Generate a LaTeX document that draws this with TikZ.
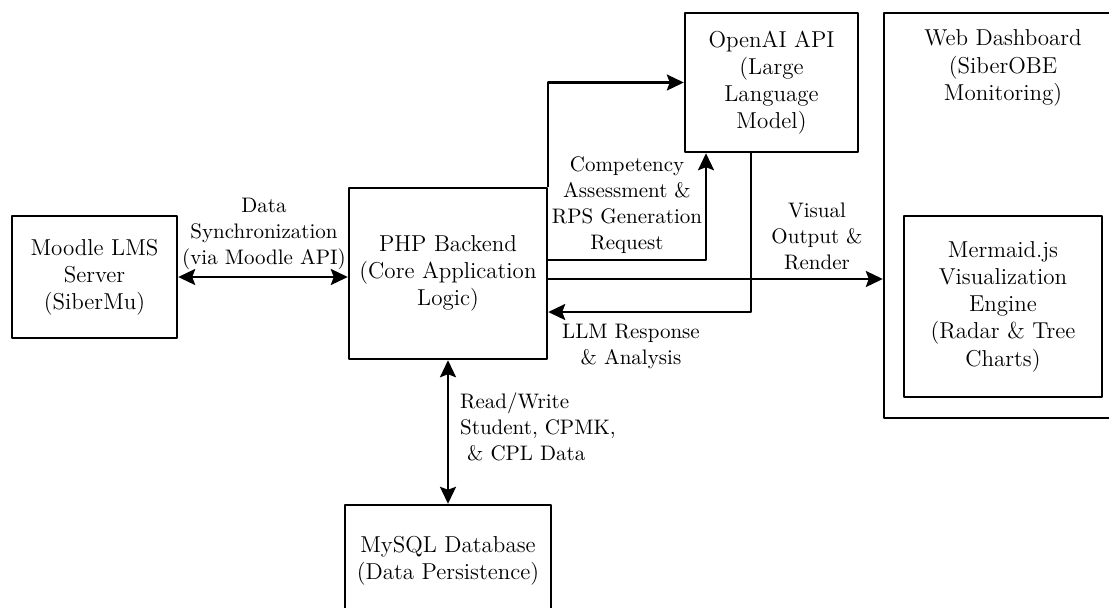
\documentclass[tikz,border=0pt]{standalone}
\usetikzlibrary{arrows.meta}
\begin{document}
\begin{tikzpicture}[x=0.5pt,y=-0.5pt,line join=round,line width=1.2pt,
	>={Stealth[length=8.5pt,width=8pt,inset=1.5pt]},
	box/.style={draw,inner sep=0pt,align=center,font=\fontsize{11.5}{13.6}\selectfont},
	lbl/.style={align=center,inner sep=0pt,font=\fontsize{10.5}{13}\selectfont}]
	\useasboundingbox (0,0) rectangle (1109,607);
	\clip (0,0) rectangle (1109,607);
	%Boxes
	\node[box,minimum width=82.5pt,minimum height=61pt] (moodle) at (94.5,277) {Moodle LMS\\Server\\(SiberMu)};
	\node[box,minimum width=99pt,minimum height=85.5pt] (php) at (448,273.5) {PHP Backend\\(Core Application\\Logic)};
	\node[box,minimum width=86.5pt,minimum height=69.5pt] (openai) at (771.5,82.5) {OpenAI API\\(Large\\Language\\Model)};
	\node[box,minimum width=120.5pt,minimum height=202.5pt] (dash) at (1004.5,215.5) {};
	\node[box,draw=none] (dashlbl) at (1003,68) {Web Dashboard\\(SiberOBE\\Monitoring)};
	\node[box,minimum width=99pt,minimum height=90.5pt] (mermaid) at (1003,306.5) {Mermaid.js\\Visualization\\Engine\\(Radar \& Tree\\Charts)};
	\node[box,minimum width=103pt,minimum height=56pt] (mysql) at (448,561) {MySQL Database\\(Data Persistence)};
	%Arrows
	\draw[<->] (moodle.east) -- (moodle.east -| php.west);
	\draw[->] (php.north east) |- (openai.west);
	\draw[->] ([yshift=6.75pt]php.east) -| ([xshift=-32.75pt]openai.south);
	\draw[->] ([xshift=-10.25pt]openai.south) |- ([yshift=-19.25pt]php.east);
	\draw[->] ([yshift=-2.75pt]php.east) -- ([yshift=-2.75pt]php.east -| dash.west);
	\draw[<->] (php.south) -- (mysql.north);
	%Labels
	\node[lbl] (synclbl) at (264,233.5) {Data\\Synchronization\\(via Moodle API)};
	\node[lbl] (reqlbl) at (627,205.5) {Competency\\Assessment \&\\RPS Generation\\Request};
	\node[lbl] (renderlbl) at (817,236) {Visual\\Output \&\\Render};
	\node[lbl] (llmlbl) at (631,346) {LLM Response\\\& Analysis};
	\node[lbl,anchor=west,align=left] (rwlbl) at (459,426.5) {Read/Write\\Student, CPMK,\\\ \& CPL Data};
\end{tikzpicture}
\end{document}
